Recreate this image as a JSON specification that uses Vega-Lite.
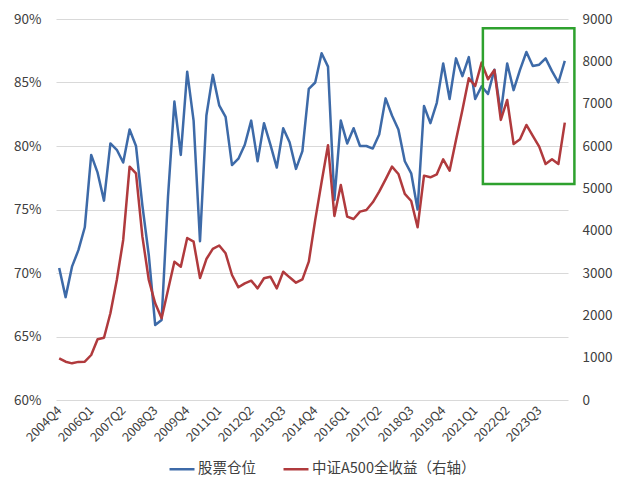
{
  "$schema": "https://vega.github.io/schema/vega-lite/v6.json",
  "width": 512,
  "height": 381,
  "autosize": {"type": "none"},
  "padding": {"left": 56, "top": 19, "right": 66, "bottom": 100},
  "background": "white",
  "config": {
    "view": {"stroke": null},
    "font": "Noto Sans CJK SC",
    "axis": {"labelFont": "Noto Sans CJK SC", "labelColor": "#404040", "domain": false, "ticks": false, "title": null},
    "axisX": {"labelOverlap": false}
  },
  "datasets": {
    "main": [
      {"q": "2004Q4", "i": 0, "pos": 70.4, "idx": 985},
      {"q": "2005Q1", "i": 1, "pos": 68.1, "idx": 905},
      {"q": "2005Q2", "i": 2, "pos": 70.5, "idx": 866},
      {"q": "2005Q3", "i": 3, "pos": 71.8, "idx": 900},
      {"q": "2005Q4", "i": 4, "pos": 73.6, "idx": 905},
      {"q": "2006Q1", "i": 5, "pos": 79.3, "idx": 1063},
      {"q": "2006Q2", "i": 6, "pos": 77.9, "idx": 1434},
      {"q": "2006Q3", "i": 7, "pos": 75.7, "idx": 1470},
      {"q": "2006Q4", "i": 8, "pos": 80.2, "idx": 2048},
      {"q": "2007Q1", "i": 9, "pos": 79.7, "idx": 2835},
      {"q": "2007Q2", "i": 10, "pos": 78.7, "idx": 3780},
      {"q": "2007Q3", "i": 11, "pos": 81.3, "idx": 5512},
      {"q": "2007Q4", "i": 12, "pos": 80.0, "idx": 5355},
      {"q": "2008Q1", "i": 13, "pos": 75.3, "idx": 3858},
      {"q": "2008Q2", "i": 14, "pos": 71.4, "idx": 2835},
      {"q": "2008Q3", "i": 15, "pos": 65.9, "idx": 2284},
      {"q": "2008Q4", "i": 16, "pos": 66.3, "idx": 1930},
      {"q": "2009Q1", "i": 17, "pos": 76.0, "idx": 2599},
      {"q": "2009Q2", "i": 18, "pos": 83.5, "idx": 3267},
      {"q": "2009Q3", "i": 19, "pos": 79.3, "idx": 3149},
      {"q": "2009Q4", "i": 20, "pos": 85.85, "idx": 3827},
      {"q": "2010Q1", "i": 21, "pos": 82.0, "idx": 3740},
      {"q": "2010Q2", "i": 22, "pos": 72.5, "idx": 2880},
      {"q": "2010Q3", "i": 23, "pos": 82.4, "idx": 3330},
      {"q": "2010Q4", "i": 24, "pos": 85.6, "idx": 3570},
      {"q": "2011Q1", "i": 25, "pos": 83.2, "idx": 3650},
      {"q": "2011Q2", "i": 26, "pos": 82.3, "idx": 3465},
      {"q": "2011Q3", "i": 27, "pos": 78.5, "idx": 2953},
      {"q": "2011Q4", "i": 28, "pos": 79.0, "idx": 2662},
      {"q": "2012Q1", "i": 29, "pos": 80.1, "idx": 2756},
      {"q": "2012Q2", "i": 30, "pos": 82.0, "idx": 2819},
      {"q": "2012Q3", "i": 31, "pos": 78.8, "idx": 2638},
      {"q": "2012Q4", "i": 32, "pos": 81.8, "idx": 2875},
      {"q": "2013Q1", "i": 33, "pos": 80.1, "idx": 2913},
      {"q": "2013Q2", "i": 34, "pos": 78.3, "idx": 2638},
      {"q": "2013Q3", "i": 35, "pos": 81.4, "idx": 3031},
      {"q": "2013Q4", "i": 36, "pos": 80.3, "idx": 2898},
      {"q": "2014Q1", "i": 37, "pos": 78.2, "idx": 2771},
      {"q": "2014Q2", "i": 38, "pos": 79.6, "idx": 2851},
      {"q": "2014Q3", "i": 39, "pos": 84.5, "idx": 3267},
      {"q": "2014Q4", "i": 40, "pos": 85.0, "idx": 4250},
      {"q": "2015Q1", "i": 41, "pos": 87.3, "idx": 5150},
      {"q": "2015Q2", "i": 42, "pos": 86.25, "idx": 6020},
      {"q": "2015Q3", "i": 43, "pos": 75.75, "idx": 4347},
      {"q": "2015Q4", "i": 44, "pos": 82.0, "idx": 5079},
      {"q": "2016Q1", "i": 45, "pos": 80.2, "idx": 4331},
      {"q": "2016Q2", "i": 46, "pos": 81.4, "idx": 4276},
      {"q": "2016Q3", "i": 47, "pos": 80.0, "idx": 4449},
      {"q": "2016Q4", "i": 48, "pos": 80.0, "idx": 4489},
      {"q": "2017Q1", "i": 49, "pos": 79.8, "idx": 4670},
      {"q": "2017Q2", "i": 50, "pos": 80.9, "idx": 4922},
      {"q": "2017Q3", "i": 51, "pos": 83.75, "idx": 5213},
      {"q": "2017Q4", "i": 52, "pos": 82.4, "idx": 5512},
      {"q": "2018Q1", "i": 53, "pos": 81.3, "idx": 5339},
      {"q": "2018Q2", "i": 54, "pos": 78.8, "idx": 4867},
      {"q": "2018Q3", "i": 55, "pos": 77.85, "idx": 4701},
      {"q": "2018Q4", "i": 56, "pos": 75.0, "idx": 4079},
      {"q": "2019Q1", "i": 57, "pos": 83.15, "idx": 5300},
      {"q": "2019Q2", "i": 58, "pos": 81.8, "idx": 5260},
      {"q": "2019Q3", "i": 59, "pos": 83.4, "idx": 5330},
      {"q": "2019Q4", "i": 60, "pos": 86.5, "idx": 5686},
      {"q": "2020Q1", "i": 61, "pos": 83.7, "idx": 5418},
      {"q": "2020Q2", "i": 62, "pos": 86.9, "idx": 6142},
      {"q": "2020Q3", "i": 63, "pos": 85.5, "idx": 6851},
      {"q": "2020Q4", "i": 64, "pos": 87.0, "idx": 7599},
      {"q": "2021Q1", "i": 65, "pos": 83.7, "idx": 7418},
      {"q": "2021Q2", "i": 66, "pos": 84.7, "idx": 7969},
      {"q": "2021Q3", "i": 67, "pos": 84.1, "idx": 7576},
      {"q": "2021Q4", "i": 68, "pos": 86.0, "idx": 7796},
      {"q": "2022Q1", "i": 69, "pos": 82.6, "idx": 6615},
      {"q": "2022Q2", "i": 70, "pos": 86.5, "idx": 7087},
      {"q": "2022Q3", "i": 71, "pos": 84.4, "idx": 6048},
      {"q": "2022Q4", "i": 72, "pos": 86.0, "idx": 6159},
      {"q": "2023Q1", "i": 73, "pos": 87.4, "idx": 6497},
      {"q": "2023Q2", "i": 74, "pos": 86.3, "idx": 6237},
      {"q": "2023Q3", "i": 75, "pos": 86.4, "idx": 5984},
      {"q": "2023Q4", "i": 76, "pos": 86.9, "idx": 5575},
      {"q": "2024Q1", "i": 77, "pos": 85.9, "idx": 5686},
      {"q": "2024Q2", "i": 78, "pos": 85.0, "idx": 5575},
      {"q": "2024Q3", "i": 79, "pos": 86.7, "idx": 6551}
    ]
  },
  "data": {"name": "main"},
  "layer": [
    {
      "mark": {"type": "line", "strokeWidth": 2.5, "strokeJoin": "round"},
      "encoding": {
        "x": {
          "field": "i",
          "type": "quantitative",
          "scale": {"domain": [-0.5, 79.5], "nice": false, "zero": false},
          "axis": {
            "values": [0, 5, 10, 15, 20, 25, 30, 35, 40, 45, 50, 55, 60, 65, 70, 75],
            "labelExpr": "(2004 + floor((datum.value + 3) / 4)) + 'Q' + ((datum.value + 3) % 4 + 1)",
            "labelAngle": -45,
            "labelAlign": "right",
            "labelBaseline": "middle",
            "labelPadding": 8,
            "labelFontSize": 12.5,
            "grid": false,
            "labelOverlap": false,
            "labelBound": false
          }
        },
        "y": {
          "field": "pos",
          "type": "quantitative",
          "scale": {"domain": [60, 90], "nice": false, "zero": false},
          "axis": {
            "orient": "left",
            "values": [60, 65, 70, 75, 80, 85, 90],
            "labelExpr": "datum.value + '%'",
            "grid": true,
            "gridColor": "#d9d9d9",
            "gridWidth": 1,
            "labelPadding": 15,
            "labelFontSize": 13.5
          }
        },
        "color": {
          "datum": "股票仓位",
          "type": "nominal",
          "scale": {"domain": ["股票仓位", "中证A500全收益（右轴）"], "range": ["#3d6aa8", "#b03a3d"]},
          "legend": {
            "title": null,
            "orient": "none",
            "legendX": 112,
            "legendY": 436,
            "direction": "horizontal",
            "symbolType": "stroke",
            "symbolSize": 625,
            "symbolStrokeWidth": 2.5,
            "labelFontSize": 14.5,
            "labelFont": "Noto Sans CJK SC",
            "labelColor": "#404040",
            "labelOffset": 2,
            "labelLimit": 400,
            "columnPadding": 22,
            "padding": 0
          }
        }
      }
    },
    {
      "layer": [
        {
          "mark": {"type": "line", "strokeWidth": 2.5, "strokeJoin": "round"},
          "encoding": {
            "x": {
              "field": "i",
              "type": "quantitative",
              "axis": {
                "values": [0, 5, 10, 15, 20, 25, 30, 35, 40, 45, 50, 55, 60, 65, 70, 75],
                "labelExpr": "(2004 + floor((datum.value + 3) / 4)) + 'Q' + ((datum.value + 3) % 4 + 1)",
                "labelAngle": -45,
                "labelAlign": "right",
                "labelBaseline": "middle",
                "labelPadding": 8,
                "labelFontSize": 12.5,
                "grid": false,
                "labelOverlap": false,
                "labelBound": false
              }
            },
            "y": {
              "field": "idx",
              "type": "quantitative",
              "scale": {"domain": [0, 9000], "nice": false},
              "axis": {
                "orient": "right",
                "values": [0, 1000, 2000, 3000, 4000, 5000, 6000, 7000, 8000, 9000],
                "format": "d",
                "grid": false,
                "labelPadding": 14,
                "labelFontSize": 13.5
              }
            },
            "color": {"datum": "中证A500全收益（右轴）", "type": "nominal"}
          }
        },
        {
          "data": {"values": [{"x1": 66.2, "x2": 80.5, "y1": 5100, "y2": 8780}]},
          "mark": {"type": "rect", "fill": "white", "fillOpacity": 0, "stroke": "#2ea12e", "strokeWidth": 2.5, "clip": false},
          "encoding": {
            "x": {
              "field": "x1",
              "type": "quantitative",
              "axis": {
                "values": [0, 5, 10, 15, 20, 25, 30, 35, 40, 45, 50, 55, 60, 65, 70, 75],
                "labelExpr": "(2004 + floor((datum.value + 3) / 4)) + 'Q' + ((datum.value + 3) % 4 + 1)",
                "labelAngle": -45,
                "labelAlign": "right",
                "labelBaseline": "middle",
                "labelPadding": 8,
                "labelFontSize": 12.5,
                "grid": false,
                "labelOverlap": false,
                "labelBound": false
              }
            },
            "x2": {"field": "x2"},
            "y": {
              "field": "y1",
              "type": "quantitative",
              "axis": {
                "orient": "right",
                "values": [0, 1000, 2000, 3000, 4000, 5000, 6000, 7000, 8000, 9000],
                "format": "d",
                "grid": false,
                "labelPadding": 14,
                "labelFontSize": 13.5
              }
            },
            "y2": {"field": "y2"}
          }
        }
      ]
    }
  ],
  "resolve": {"scale": {"y": "independent"}}
}
